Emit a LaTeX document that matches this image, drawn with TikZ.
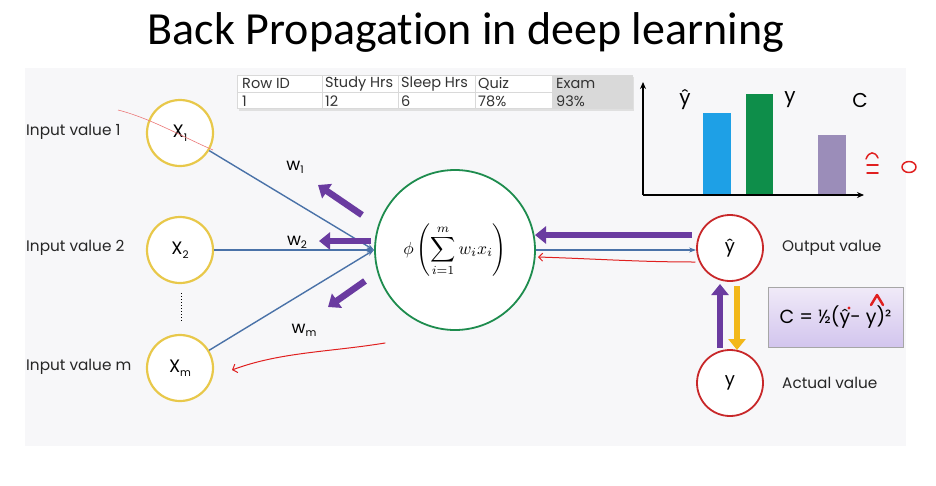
\documentclass[tikz,border=0pt]{standalone}
\usepackage{fontspec}
\usepackage{graphicx}
\setmainfont{Poppins}
\newfontfamily\titlefont[Ligatures=NoCommon]{Carlito}
\usetikzlibrary{arrows.meta,calc}
\definecolor{cyel}{HTML}{E8C84A}
\definecolor{cgreen}{HTML}{1E8C4E}
\definecolor{cred}{HTML}{C8282A}
\definecolor{cblue}{HTML}{4A72A8}
\definecolor{cpurple}{HTML}{6A3BA0}
\definecolor{carrowy}{HTML}{F2B81A}
\definecolor{bblue}{HTML}{1EA0E6}
\definecolor{bgreen}{HTML}{0E8E4A}
\definecolor{bpurple}{HTML}{9B8DB9}
\definecolor{panel}{HTML}{F7F7F9}
\definecolor{hand}{HTML}{E02020}
\definecolor{boxtop}{HTML}{F0EAF8}
\definecolor{boxbot}{HTML}{D2C5EE}
\newcommand\lowsub[1]{\raisebox{-0.35ex}{\fontsize{10.5}{10.5}\selectfont #1}}
\begin{document}
\begin{tikzpicture}[x=1pt,y=-1pt,
  inp/.style={circle,draw=cyel,line width=2.2pt,minimum size=66pt,inner sep=0pt,fill=white,font=\fontsize{18}{18}\selectfont},
  outc/.style={circle,draw=cred,line width=1.8pt,minimum size=66pt,inner sep=0pt,fill=white,font=\fontsize{18}{18}\selectfont},
  lab/.style={anchor=west,inner sep=0pt,font=\fontsize{15.3}{16}\selectfont,text=black!85},
  wlab/.style={inner sep=0pt,font=\fontsize{17}{17}\selectfont},
  wline/.style={draw=cblue,line width=1.4pt,-{Stealth[length=7pt,width=5pt]}},
  parrow/.style={draw=cpurple,line width=6.5pt,-{Triangle[length=11pt,width=17pt]}},
  yarrow/.style={draw=carrowy,line width=6.5pt,-{Triangle[length=11pt,width=17pt]}},
  cell/.style={draw=black!15,line width=0.5pt},
  ttext/.style={anchor=west,inner sep=0pt,font=\fontsize{14.5}{14.5}\selectfont,text=black!80},
  redpen/.style={draw=hand,line width=1.5pt,line cap=round,line join=round}
]
\useasboundingbox (0,0) rectangle (936,485);
\fill[white] (0,0) rectangle (936,485);
\fill[panel] (25,68) rectangle (906,446);

% title
\node[font=\titlefont\fontsize{46}{46}\selectfont,inner sep=0pt] (title) at (466,32) {Back Propagation in deep learning};

% table
\fill[black!12] (239,77) rectangle (634,111);
\fill[white] (237,75) rectangle (552,108);
\fill[black!15] (552,75) rectangle (632,108);
\draw[cell] (237,75) rectangle (632,108);
\draw[cell] (237,92) -- (632,92);
\foreach \cx in {322,398,475,552} \draw[cell] (\cx,75) -- (\cx,108);
\node[ttext] (h1) at (242,84) {Row ID};
\node[ttext] (h2) at (325,84) {Study Hrs};
\node[ttext] (h3) at (401,84) {Sleep Hrs};
\node[ttext] (h4) at (478,84) {Quiz};
\node[ttext] (h5) at (556,84) {Exam};
\node[ttext] (d1) at (242,101) {1};
\node[ttext] (d2) at (325,101) {12};
\node[ttext] (d3) at (401,101) {6};
\node[ttext] (d4) at (478,101) {78\%};
\node[ttext] (d5) at (556,101) {93\%};

% bar chart
\fill[bblue] (703,113) rectangle (731,195);
\fill[bgreen] (746,94) rectangle (773,195);
\fill[bpurple] (818,135) rectangle (846,195);
\coordinate (org) at (643,195);
\coordinate (ytop) at (643,82);
\coordinate (xend) at (864,195);
\draw[line width=1.6pt,-{Stealth[length=7pt,width=6pt]}] (org) -- (ytop);
\draw[line width=1.6pt,-{Stealth[length=7pt,width=6pt]}] (org) -- (xend);
\node[font=\fontsize{20}{20}\selectfont,inner sep=0pt] (cy1) at (685,100) {ŷ};
\node[font=\fontsize{20}{20}\selectfont,inner sep=0pt] (cy2) at (790,100) {y};
\node[font=\fontsize{20}{20}\selectfont,inner sep=0pt] (cc) at (860,100) {C};
% red handwriting
\draw[redpen] (866,159) .. controls (869,151) and (875,151) .. (878,158);
\draw[redpen] (867,165) -- (878,165);
\draw[redpen] (867,173) -- (878,173);
\draw[redpen] (909,167) ellipse [x radius=7, y radius=5.5];

% input nodes
\node[inp] (x1) at (180,133) {X\lowsub{1}};
\node[inp] (x2) at (180,250) {X\lowsub{2}};
\node[inp] (xm) at (180,368) {X\lowsub{m}};
\node[lab] (l1) at (26,132) {Input value 1};
\node[lab] (l2) at (26,248) {Input value 2};
\node[lab] (lm) at (26,367) {Input value m};
\coordinate (dtop) at (181,293);
\coordinate (dbot) at (181,323);
\draw[dotted,line width=1pt] (dtop) -- (dbot);

% central neuron
\node[circle,draw=cgreen,line width=1.8pt,minimum size=160pt,inner sep=0pt,fill=white] (c) at (455,250)
  {\scalebox{1.75}{$\displaystyle \phi\left(\sum_{i=1}^{m} w_i x_i\right)$}};
\coordinate (cin) at (374,250);

% weighted lines
\draw[wline] (x1) -- (cin);
\draw[wline] (x2) -- (cin);
\draw[wline] (xm) -- (cin);
\node[wlab] (w1) at (295,167) {w\lowsub{1}};
\node[wlab] (w2) at (297,242) {w\lowsub{2}};
\node[wlab] (wm) at (304,330) {w\lowsub{m}};

% purple back arrows at weights
\coordinate (p1a) at (362,215); \coordinate (p1b) at (318,185);
\coordinate (p2a) at (371,241); \coordinate (p2b) at (319,241);
\coordinate (p3a) at (365,281); \coordinate (p3b) at (328,307);
\draw[parrow] (p1a) -- (p1b);
\draw[parrow] (p2a) -- (p2b);
\draw[parrow] (p3a) -- (p3b);

% output nodes
\node[outc] (yh) at (730,248) {ŷ};
\node[outc] (y) at (730,383) {y};
\node[lab] (ol) at (782,248) {Output value};
\node[lab] (al) at (782,383) {Actual value};

% arrows between neuron and output
\draw[parrow] (yh.west |- 0,235) ++(-4,0) -- (535,235);
\draw[draw=cblue,line width=1.4pt,-{Stealth[length=7pt,width=5pt]}] (c.east |- 0,250) -- (yh.west |- 0,250);
\draw[redpen,line width=1pt,-{Straight Barb[length=4pt,width=8pt]}] (695,262) .. controls (640,262) and (600,259) .. (538,257);

% vertical arrows
\draw[parrow] (720,348) -- (720,284);
\draw[yarrow] (737,286) -- (737,350);

% cost box
\node[draw=black!35,line width=0.8pt,top color=boxtop,bottom color=boxbot,
  minimum width=135pt,minimum height=60pt,inner sep=0pt,font=\fontsize{19}{19}\selectfont] (cost) at (835.5,317) {C = ½(ŷ- y)²};
\fill[hand] (849,308) circle (1.6);
\draw[redpen,line width=2.5pt] (871,305) -- (877,295) -- (883,305);

% red annotations
\draw[redpen,line width=1pt,-{Straight Barb[length=4pt,width=9pt]}] (385,343) .. controls (330,352) and (280,352) .. (232,370);
\draw[draw=hand!60,line width=0.6pt] (118,110) .. controls (150,118) and (185,138) .. (213,150);
\end{tikzpicture}
\end{document}
